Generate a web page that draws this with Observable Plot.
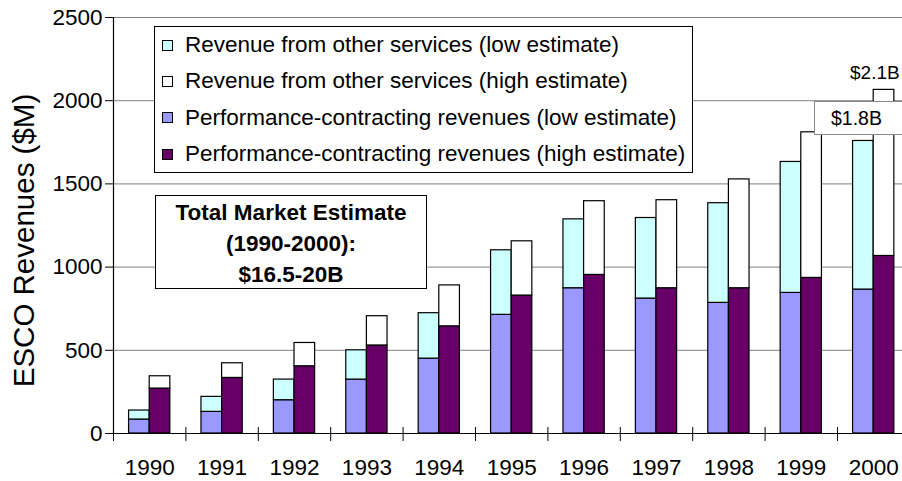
<!DOCTYPE html>
<html>
<head>
<meta charset="utf-8">
<script src="https://cdn.jsdelivr.net/npm/d3@7"></script>
<script src="https://cdn.jsdelivr.net/npm/@observablehq/plot@0.6"></script>
<style>
  html, body { margin: 0; padding: 0; background: #fff; }
  #wrap { position: relative; width: 902px; height: 481px; overflow: hidden;
          font-family: "Liberation Sans", Arial, sans-serif; color: #000; }
  #wrap svg { display: block; }
  .ov { position: absolute; background: #fff; box-sizing: border-box; }
  #legend { left: 154px; top: 26px; width: 539px; height: 147px; border: 1px solid #000; }
  .lrow { height: 36.3px; display: flex; align-items: center; font-size: 22.5px; white-space: nowrap; }
  .sw { width: 9px; height: 9px; border: 1px solid #000; margin-left: 7px; margin-right: 12px; flex: none; }
  #total { left: 155px; top: 195px; width: 272px; height: 94px; border: 1px solid #000;
           font-weight: bold; font-size: 22.5px; line-height: 31px; text-align: center; padding-top: 0.5px; }
  #lowlab { left: 814px; top: 101px; width: 120px; height: 34px; border: 1px solid #8a8a8a;
            font-size: 19.5px; line-height: 32px; padding-left: 16px; }
  #highlab { left: 850px; top: 61px; background: transparent; font-size: 19px; line-height: 24px; white-space: nowrap; }
</style>
</head>
<body>
<div id="wrap"></div>
<script>
// ---- data ----
const years = ["1990","1991","1992","1993","1994","1995","1996","1997","1998","1999","2000"];
// low estimate: performance-contracting and total (performance + other services)
const perfLow   = [84, 130, 200, 324, 450, 713, 873, 811, 785, 845, 865];
const totalLow  = [138, 220, 324, 500, 723, 1101, 1287, 1295, 1384, 1632, 1758];
// high estimate
const perfHigh  = [270, 334, 404, 529, 644, 829, 953, 873, 873, 935, 1067];
const totalHigh = [344, 422, 544, 705, 890, 1155, 1396, 1402, 1527, 1810, 2065];
const yTicks = [0, 500, 1000, 1500, 2000, 2500];
const seriesNames = [
  "Revenue from other services (low estimate)",
  "Revenue from other services (high estimate)",
  "Performance-contracting revenues (low estimate)",
  "Performance-contracting revenues (high estimate)"
];
const seriesColors = ["#CCFFFF", "#FFFFFF", "#9999FF", "#660066"];
const yLabel = "ESCO Revenues ($M)";
const annotationLines = ["Total Market Estimate", "(1990-2000):", "$16.5-20B"];
const lowTotalLabel = "$1.8B";
const highTotalLabel = "$2.1B";

// ---- build segments ----
const barFrac = 0.285; // bar width as fraction of a year slot
const segs = [];
years.forEach((yr, i) => {
  const c = i + 0.5;
  segs.push({x1: c - barFrac, x2: c, y1: 0, y2: perfLow[i], s: seriesNames[2]});
  segs.push({x1: c - barFrac, x2: c, y1: perfLow[i], y2: totalLow[i], s: seriesNames[0]});
  segs.push({x1: c, x2: c + barFrac, y1: 0, y2: perfHigh[i], s: seriesNames[3]});
  segs.push({x1: c, x2: c + barFrac, y1: perfHigh[i], y2: totalHigh[i], s: seriesNames[1]});
});

const font = "Liberation Sans, Arial, sans-serif";
const chart = Plot.plot({
  width: 902, height: 481,
  marginLeft: 113, marginRight: -7.4, marginTop: 17, marginBottom: 48,
  x: {type: "linear", domain: [0, years.length]},
  y: {domain: [0, 2500]},
  color: {domain: seriesNames, range: seriesColors},
  style: {fontFamily: font, background: "white", color: "black"},
  marks: [
    Plot.ruleY(yTicks.filter(d => d > 0), {stroke: "#808080", strokeWidth: 1}),
    Plot.rectY(segs, {x1: "x1", x2: "x2", y1: "y1", y2: "y2", fill: "s", stroke: "black", strokeWidth: 1.2}),
    Plot.ruleY([0], {stroke: "black", strokeWidth: 1.2}),
    Plot.ruleX([0], {stroke: "black", strokeWidth: 1.2}),
    Plot.axisY({ticks: yTicks, tickSize: 8, tickPadding: 3, fontSize: 22.5, tickFormat: d => String(d), label: null}),
    Plot.axisX({ticks: d3.range(years.length + 1), tickSize: 14, dy: -6, tickFormat: () => "", label: null}),
    Plot.axisX({ticks: years.map((d, i) => i + 0.5), tickSize: 0, tickPadding: 26, fontSize: 22.5,
                tickFormat: d => years[Math.floor(d)], label: null}),
    Plot.text([yLabel], {frameAnchor: "left", textAnchor: "middle", rotate: -90, dx: -89, dy: 15, fontSize: 29.5})
  ]
});
const wrap = document.getElementById("wrap");
wrap.appendChild(chart);

// legend
const legend = document.createElement("div");
legend.className = "ov"; legend.id = "legend";
seriesNames.forEach((name, k) => {
  const row = document.createElement("div"); row.className = "lrow";
  const sw = document.createElement("span"); sw.className = "sw"; sw.style.background = seriesColors[k];
  const t = document.createElement("span"); t.textContent = name;
  row.appendChild(sw); row.appendChild(t); legend.appendChild(row);
});
wrap.appendChild(legend);

// annotation box
const total = document.createElement("div");
total.className = "ov"; total.id = "total";
total.innerHTML = annotationLines.map(s => `<div>${s}</div>`).join("");
wrap.appendChild(total);

const low = document.createElement("div");
low.className = "ov"; low.id = "lowlab"; low.textContent = lowTotalLabel;
wrap.appendChild(low);

const high = document.createElement("div");
high.className = "ov"; high.id = "highlab"; high.textContent = highTotalLabel;
wrap.appendChild(high);
</script>
</body>
</html>
